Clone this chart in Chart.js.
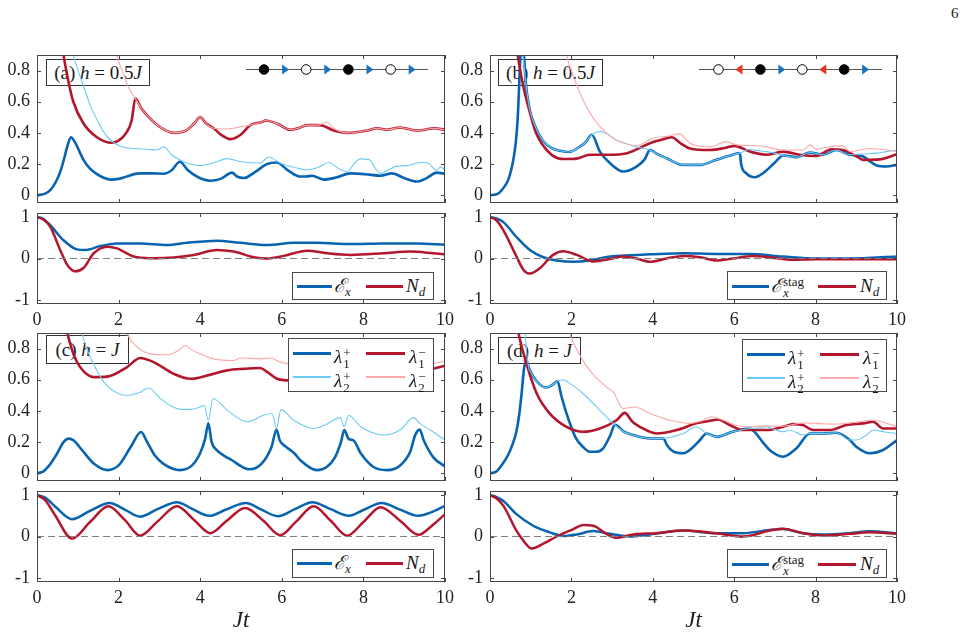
<!DOCTYPE html>
<html>
<head>
<meta charset="utf-8">
<script src="https://cdn.jsdelivr.net/npm/chart.js@4.4.0/dist/chart.umd.min.js"></script>
<style>
  body { margin: 0; background: #fff; }
  #page { position: relative; width: 972px; height: 638px; overflow: hidden; font-family: "Liberation Serif", "Times New Roman", "DejaVu Serif", serif; color: #1a1a1a; }
  canvas { position: absolute; left: 0; top: 0; z-index: 1; }
  svg { z-index: 2; }
  .lg { position: absolute; background: #fff; border: 1px solid #4a4a4a; box-sizing: border-box; z-index: 2; }
  .ln { position: absolute; }
  .tx { position: absolute; white-space: nowrap; font-size: 19px; line-height: 19px; }
  .tx i { font-style: italic; }
  .tx sub { font-size: 13px; font-style: italic; vertical-align: -4px; line-height: 0; }
  .ss { display: inline-block; vertical-align: -5px; font-size: 13px; line-height: 11px; margin-left: 1px; }
  .ss span { display: block; }
  .ss span.it { font-style: italic; }
  .pl { position: absolute; z-index: 0; background: #fff; border: 1px solid #333; box-sizing: border-box; font-size: 19px;
        display: flex; align-items: center; justify-content: center; white-space: nowrap; }
  .pl i { font-style: italic; }
  #pnum { position: absolute; left: 951px; top: 5px; font-size: 15px; }
</style>
</head>
<body>
<div id="page"><div id="pnum">6</div></div>
<script>
// ---- ticks ----
const xTicks = [0, 2, 4, 6, 8, 10];
const topTicks = [0, 0.2, 0.4, 0.6, 0.8];
const smallTicks = [-1, 0, 1];
const zeroT = [0, 10];
const zeroV = [0, 0];

// ---- (a) h = 0.5J ----
const aL1pT = [0, 0.2, 0.33, 0.45, 0.57, 0.66, 0.74, 0.83, 0.95, 1.14, 1.3, 1.47, 1.65, 1.8, 2.0, 2.2, 2.5, 2.8, 3.1, 3.3, 3.5, 3.7, 3.95, 4.25, 4.5, 4.78, 4.9, 5.07, 5.35, 5.64, 5.88, 6.15, 6.45, 6.6, 6.74, 7.03, 7.35, 7.68, 8.05, 8.42, 8.7, 9.0, 9.31, 9.55, 9.8, 10];
const aL1pV = [0, 0.01, 0.034, 0.08, 0.15, 0.23, 0.31, 0.372, 0.33, 0.227, 0.17, 0.135, 0.11, 0.10, 0.105, 0.12, 0.14, 0.14, 0.138, 0.16, 0.215, 0.16, 0.115, 0.093, 0.105, 0.145, 0.12, 0.11, 0.15, 0.2, 0.21, 0.16, 0.12, 0.12, 0.125, 0.10, 0.115, 0.14, 0.135, 0.125, 0.14, 0.11, 0.088, 0.11, 0.145, 0.137];
const aL1mT = [0.5, 0.65, 0.77, 0.89, 1.14, 1.46, 1.83, 2.0, 2.2, 2.32, 2.41, 2.55, 2.78, 3.0, 3.35, 3.68, 3.85, 4.0, 4.15, 4.33, 4.5, 4.74, 5.0, 5.23, 5.51, 5.6, 5.88, 6.21, 6.4, 6.62, 6.9, 7.03, 7.27, 7.6, 8.1, 8.33, 8.58, 8.9, 9.31, 9.5, 9.73, 10];
const aL1mV = [1.15, 0.9, 0.73, 0.60, 0.46, 0.374, 0.337, 0.35, 0.405, 0.48, 0.62, 0.56, 0.49, 0.44, 0.40, 0.42, 0.46, 0.50, 0.46, 0.43, 0.39, 0.36, 0.39, 0.45, 0.47, 0.48, 0.46, 0.42, 0.43, 0.45, 0.45, 0.445, 0.415, 0.40, 0.415, 0.43, 0.42, 0.435, 0.415, 0.42, 0.43, 0.42];
const aL2pT = [0.8, 0.89, 0.97, 1.14, 1.3, 1.46, 1.65, 1.84, 2.1, 2.4, 2.7, 2.94, 3.1, 3.3, 3.5, 3.75, 4.0, 4.3, 4.66, 5.0, 5.47, 5.68, 5.96, 6.3, 6.6, 6.9, 7.15, 7.4, 7.6, 7.8, 7.92, 8.13, 8.3, 8.42, 8.6, 8.8, 9.07, 9.4, 9.56, 9.8, 9.89, 10];
const aL2pV = [1.1, 0.9, 0.83, 0.70, 0.58, 0.49, 0.40, 0.345, 0.31, 0.30, 0.295, 0.29, 0.31, 0.26, 0.227, 0.2, 0.19, 0.205, 0.235, 0.215, 0.207, 0.245, 0.205, 0.18, 0.163, 0.18, 0.21, 0.17, 0.152, 0.21, 0.233, 0.23, 0.17, 0.14, 0.16, 0.185, 0.19, 0.21, 0.208, 0.16, 0.18, 0.163];
const aL2mT = [1.7, 1.95, 2.1, 2.25, 2.41, 2.55, 2.78, 3.0, 3.35, 3.68, 3.85, 4.0, 4.15, 4.33, 4.6, 4.82, 5.0, 5.23, 5.51, 5.6, 5.88, 6.21, 6.4, 6.62, 6.9, 7.1, 7.27, 7.6, 8.1, 8.33, 8.58, 8.9, 9.31, 9.5, 9.73, 10];
const aL2mV = [1.2, 0.9, 0.79, 0.69, 0.62, 0.56, 0.49, 0.44, 0.40, 0.42, 0.46, 0.50, 0.46, 0.43, 0.425, 0.43, 0.44, 0.45, 0.47, 0.48, 0.46, 0.42, 0.43, 0.45, 0.45, 0.47, 0.43, 0.40, 0.415, 0.43, 0.42, 0.435, 0.415, 0.42, 0.43, 0.42];
const aExT = [0, 0.15, 0.33, 0.65, 0.98, 1.18, 1.55, 1.96, 2.53, 3.19, 3.68, 4.41, 4.98, 5.64, 6.29, 6.86, 7.68, 8.5, 9.31, 10];
const aExV = [1, 0.96, 0.8, 0.44, 0.22, 0.206, 0.30, 0.365, 0.365, 0.325, 0.38, 0.43, 0.38, 0.325, 0.38, 0.38, 0.35, 0.365, 0.365, 0.333];
const aNdT = [0, 0.15, 0.33, 0.57, 0.74, 0.94, 1.14, 1.39, 1.72, 1.96, 2.37, 2.78, 3.35, 3.84, 4.41, 4.82, 5.31, 5.64, 6.05, 6.62, 7.11, 7.68, 8.5, 9.15, 9.72, 10];
const aNdV = [1, 0.95, 0.76, 0.2, -0.15, -0.31, -0.23, 0.127, 0.286, 0.246, 0.048, 0.008, 0.024, 0.087, 0.206, 0.167, 0.032, 0, 0.063, 0.19, 0.127, 0.087, 0.127, 0.167, 0.127, 0.103];

// ---- (b) h = 0.5J, staggered ----
const bL1pT = [0, 0.2, 0.31, 0.45, 0.56, 0.63, 0.68, 0.74, 0.78, 0.82, 0.88, 0.97, 1.13, 1.3, 1.53, 1.72, 1.94, 2.2, 2.35, 2.5, 2.7, 2.95, 3.27, 3.6, 3.8, 3.93, 4.1, 4.34, 4.75, 5.16, 5.56, 5.9, 6.14, 6.17, 6.3, 6.5, 6.75, 7.0, 7.2, 7.53, 7.86, 8.18, 8.51, 8.84, 9.17, 9.35, 9.5, 9.74, 10];
const bL1pV = [0, 0.01, 0.04, 0.1, 0.21, 0.33, 0.49, 0.85, 1.0, 0.95, 0.72, 0.555, 0.43, 0.35, 0.30, 0.285, 0.277, 0.31, 0.34, 0.388, 0.28, 0.205, 0.152, 0.184, 0.23, 0.29, 0.265, 0.237, 0.195, 0.195, 0.227, 0.255, 0.27, 0.2, 0.14, 0.115, 0.15, 0.21, 0.255, 0.244, 0.274, 0.26, 0.29, 0.26, 0.248, 0.215, 0.19, 0.184, 0.195];
const bL1mT = [0.5, 0.68, 0.8, 0.97, 1.13, 1.3, 1.53, 1.8, 2.13, 2.45, 2.86, 3.36, 3.93, 4.2, 4.46, 4.7, 4.91, 5.4, 5.8, 6.01, 6.38, 6.79, 7.2, 7.61, 8.02, 8.39, 8.67, 9.0, 9.17, 9.57, 10];
const bL1mV = [1.2, 0.9, 0.72, 0.54, 0.40, 0.32, 0.256, 0.232, 0.235, 0.26, 0.26, 0.27, 0.334, 0.355, 0.372, 0.33, 0.30, 0.29, 0.305, 0.317, 0.28, 0.26, 0.28, 0.26, 0.252, 0.295, 0.29, 0.25, 0.227, 0.23, 0.263];
const bL2pT = [0.7, 0.8, 0.84, 0.88, 0.97, 1.13, 1.3, 1.53, 1.72, 1.94, 2.2, 2.35, 2.5, 2.7, 2.9, 3.1, 3.35, 3.6, 3.93, 4.1, 4.34, 4.75, 5.16, 5.56, 5.9, 6.14, 6.38, 6.6, 6.79, 7.0, 7.2, 7.53, 7.86, 8.18, 8.51, 8.84, 9.17, 9.5, 9.74, 10];
const bL2pV = [1.3, 0.92, 0.82, 0.72, 0.555, 0.43, 0.35, 0.30, 0.285, 0.277, 0.31, 0.34, 0.388, 0.41, 0.39, 0.355, 0.33, 0.31, 0.29, 0.265, 0.237, 0.195, 0.195, 0.227, 0.255, 0.27, 0.295, 0.285, 0.28, 0.27, 0.255, 0.244, 0.274, 0.26, 0.29, 0.26, 0.265, 0.27, 0.28, 0.29];
const bL2mT = [1.6, 1.88, 2.05, 2.29, 2.5, 2.7, 2.9, 3.1, 3.35, 3.6, 4.0, 4.4, 4.66, 4.91, 5.4, 5.81, 6.06, 6.63, 7.2, 7.69, 7.86, 8.02, 8.27, 8.67, 8.84, 9.33, 10];
const bL2mV = [1.2, 0.9, 0.76, 0.61, 0.51, 0.44, 0.39, 0.355, 0.33, 0.317, 0.366, 0.38, 0.394, 0.334, 0.31, 0.344, 0.323, 0.317, 0.29, 0.29, 0.323, 0.295, 0.308, 0.317, 0.28, 0.30, 0.28];
const bExT = [0, 0.15, 0.33, 0.65, 0.98, 1.31, 1.64, 2.05, 2.45, 2.95, 3.44, 3.93, 4.75, 5.56, 6.38, 7.2, 8.02, 8.84, 10];
const bExV = [1, 0.97, 0.88, 0.52, 0.206, 0.03, -0.048, -0.08, -0.048, 0.048, 0.08, 0.1, 0.127, 0.11, 0.11, 0.048, 0, 0, 0.048];
const bNdT = [0, 0.15, 0.33, 0.65, 0.82, 0.98, 1.23, 1.55, 1.8, 2.13, 2.54, 3.03, 3.27, 3.6, 3.93, 4.34, 4.75, 5.16, 5.56, 5.97, 6.46, 6.87, 7.36, 8.02, 8.84, 10];
const bNdV = [1, 0.93, 0.68, 0.05, -0.27, -0.365, -0.23, 0.087, 0.175, 0.087, -0.07, 0.008, 0.048, 0, -0.08, 0, 0.063, 0.032, -0.048, 0, 0.063, 0.032, -0.03, -0.016, -0.016, -0.016];

// ---- (c) h = J ----
const cL1pT = [0, 0.15, 0.3, 0.5, 0.65, 0.78, 0.9, 1.1, 1.4, 1.72, 2.0, 2.3, 2.55, 2.7, 2.9, 3.1, 3.5, 3.8, 4.0, 4.12, 4.2, 4.28, 4.4, 4.6, 4.8, 5.0, 5.2, 5.5, 5.75, 5.87, 5.95, 6.1, 6.3, 6.45, 6.86, 7.1, 7.3, 7.45, 7.53, 7.64, 7.76, 7.93, 8.25, 8.58, 8.9, 9.15, 9.27, 9.38, 9.48, 9.72, 10];
const cL1pV = [0, 0.01, 0.05, 0.13, 0.2, 0.222, 0.21, 0.15, 0.06, 0.02, 0.05, 0.17, 0.265, 0.2, 0.11, 0.06, 0.02, 0.05, 0.13, 0.22, 0.32, 0.2, 0.15, 0.11, 0.08, 0.045, 0.025, 0.06, 0.17, 0.28, 0.21, 0.17, 0.13, 0.085, 0.02, 0.04, 0.1, 0.2, 0.277, 0.22, 0.21, 0.13, 0.04, 0.02, 0.05, 0.14, 0.245, 0.28, 0.21, 0.1, 0.043];
const cL1mT = [0.5, 0.74, 0.9, 1.06, 1.39, 1.72, 2.2, 2.53, 2.86, 3.35, 3.76, 4.17, 4.66, 5.07, 5.47, 5.64, 5.88, 6.13, 6.5, 7.0, 7.5, 8.0, 8.5, 9.0, 9.5, 9.7, 10];
const cL1mV = [1.1, 0.9, 0.76, 0.68, 0.617, 0.62, 0.68, 0.74, 0.713, 0.638, 0.606, 0.627, 0.66, 0.67, 0.675, 0.65, 0.606, 0.596, 0.6, 0.62, 0.6, 0.63, 0.62, 0.64, 0.66, 0.67, 0.69];
const cL2pT = [0.9, 1.1, 1.25, 1.39, 1.55, 1.72, 2.0, 2.2, 2.53, 2.74, 3.02, 3.3, 3.51, 3.76, 4.0, 4.1, 4.2, 4.31, 4.66, 5.15, 5.56, 5.76, 5.87, 5.98, 6.29, 6.78, 7.1, 7.43, 7.53, 7.64, 7.93, 8.5, 8.9, 9.23, 9.38, 9.64, 10];
const cL2pV = [1.2, 0.9, 0.78, 0.70, 0.62, 0.56, 0.51, 0.50, 0.52, 0.547, 0.48, 0.43, 0.41, 0.41, 0.425, 0.436, 0.34, 0.48, 0.405, 0.33, 0.372, 0.383, 0.29, 0.408, 0.34, 0.287, 0.315, 0.357, 0.30, 0.372, 0.30, 0.245, 0.277, 0.357, 0.32, 0.277, 0.213];
const cL2mT = [1.9, 2.2, 2.37, 2.78, 3.19, 3.45, 3.64, 3.8, 4.0, 4.33, 4.82, 4.98, 5.47, 5.72, 5.96, 6.3, 7.0, 8.0, 9.0, 9.7, 10];
const cL2mV = [1.1, 0.9, 0.83, 0.766, 0.76, 0.785, 0.82, 0.79, 0.766, 0.734, 0.723, 0.74, 0.734, 0.74, 0.713, 0.70, 0.71, 0.72, 0.71, 0.705, 0.72];
const cExT = [0, 0.2, 0.45, 0.86, 1.3, 1.78, 2.15, 2.53, 2.95, 3.43, 3.8, 4.22, 4.65, 5.12, 5.5, 5.9, 6.32, 6.75, 7.2, 7.64, 8.0, 8.45, 8.9, 9.35, 9.7, 10];
const cExV = [1, 0.94, 0.72, 0.42, 0.62, 0.81, 0.65, 0.48, 0.66, 0.83, 0.67, 0.5, 0.66, 0.81, 0.65, 0.49, 0.66, 0.83, 0.66, 0.5, 0.64, 0.81, 0.65, 0.5, 0.6, 0.74];
const cNdT = [0, 0.2, 0.45, 0.86, 1.3, 1.75, 2.15, 2.53, 2.95, 3.43, 3.85, 4.25, 4.65, 5.1, 5.55, 5.96, 6.35, 6.78, 7.2, 7.6, 8.0, 8.42, 8.9, 9.35, 9.7, 10];
const cNdV = [1, 0.88, 0.5, -0.055, 0.35, 0.73, 0.4, 0.02, 0.36, 0.73, 0.4, 0.08, 0.38, 0.69, 0.38, 0.03, 0.36, 0.73, 0.38, 0.02, 0.35, 0.71, 0.38, 0.04, 0.28, 0.54];

// ---- (d) h = J, staggered ----
const dL1pT = [0, 0.15, 0.31, 0.45, 0.56, 0.65, 0.72, 0.78, 0.84, 0.9, 0.95, 1.0, 1.13, 1.38, 1.55, 1.66, 1.75, 1.86, 2.1, 2.3, 2.45, 2.6, 2.78, 2.95, 3.07, 3.3, 3.52, 3.93, 4.26, 4.35, 4.5, 4.75, 5.0, 5.15, 5.32, 5.56, 5.97, 6.38, 6.5, 6.7, 6.87, 7.2, 7.53, 7.86, 8.18, 8.51, 8.84, 9.0, 9.33, 9.66, 10];
const dL1pV = [0, 0.01, 0.06, 0.12, 0.19, 0.27, 0.38, 0.52, 0.68, 0.72, 0.68, 0.65, 0.595, 0.55, 0.57, 0.59, 0.5, 0.40, 0.23, 0.165, 0.138, 0.138, 0.16, 0.24, 0.31, 0.265, 0.245, 0.223, 0.223, 0.18, 0.14, 0.128, 0.17, 0.21, 0.255, 0.234, 0.266, 0.287, 0.265, 0.2, 0.149, 0.106, 0.16, 0.255, 0.255, 0.26, 0.213, 0.17, 0.128, 0.149, 0.213];
const dL1mT = [0.5, 0.7, 0.9, 1.15, 1.47, 1.88, 2.29, 2.7, 3.11, 3.31, 3.5, 3.68, 4.09, 4.58, 5.07, 5.48, 5.6, 5.89, 6.22, 6.79, 7.2, 7.45, 7.69, 7.94, 8.35, 8.76, 9.17, 9.41, 9.66, 10];
const dL1mV = [1.2, 0.9, 0.70, 0.51, 0.383, 0.298, 0.266, 0.287, 0.34, 0.387, 0.33, 0.298, 0.255, 0.277, 0.32, 0.34, 0.345, 0.309, 0.277, 0.277, 0.298, 0.315, 0.309, 0.277, 0.277, 0.309, 0.32, 0.33, 0.287, 0.287];
const dL2pT = [0.7, 0.86, 0.9, 0.95, 1.0, 1.13, 1.38, 1.55, 1.66, 1.8, 2.0, 2.29, 2.7, 3.07, 3.3, 3.52, 3.93, 4.26, 4.5, 4.75, 5.07, 5.32, 5.56, 5.97, 6.38, 6.6, 6.79, 7.0, 7.2, 7.36, 7.69, 7.86, 8.18, 8.51, 8.84, 9.0, 9.25, 9.41, 9.7, 10];
const dL2pV = [1.3, 0.9, 0.78, 0.68, 0.65, 0.595, 0.55, 0.57, 0.59, 0.598, 0.57, 0.51, 0.404, 0.31, 0.265, 0.245, 0.223, 0.223, 0.235, 0.255, 0.298, 0.255, 0.234, 0.266, 0.287, 0.29, 0.298, 0.28, 0.266, 0.277, 0.245, 0.255, 0.255, 0.26, 0.213, 0.213, 0.245, 0.277, 0.265, 0.255];
const dL2mT = [1.7, 1.96, 2.2, 2.45, 2.86, 3.03, 3.27, 3.56, 3.93, 4.42, 4.91, 5.2, 5.44, 5.73, 6.22, 6.79, 7.2, 7.69, 8.02, 8.43, 8.84, 9.41, 10];
const dL2mV = [1.2, 0.9, 0.76, 0.66, 0.553, 0.52, 0.415, 0.425, 0.383, 0.34, 0.32, 0.335, 0.362, 0.34, 0.298, 0.302, 0.302, 0.323, 0.32, 0.315, 0.323, 0.34, 0.298];
const dExT = [0, 0.15, 0.33, 0.65, 1.06, 1.47, 1.8, 2.13, 2.54, 2.95, 3.44, 3.93, 4.75, 5.56, 6.22, 6.87, 7.2, 7.69, 8.18, 8.84, 9.33, 10];
const dExV = [1, 0.96, 0.86, 0.54, 0.26, 0.10, 0.01, 0.05, 0.13, 0.064, 0, 0.05, 0.143, 0.08, 0.08, 0.16, 0.183, 0.08, 0.05, 0.08, 0.127, 0.08];
const dNdT = [0, 0.15, 0.33, 0.65, 0.82, 1.02, 1.31, 1.64, 2.05, 2.29, 2.54, 2.86, 3.11, 3.52, 4.09, 4.75, 5.56, 6.22, 6.87, 7.2, 7.69, 8.18, 8.84, 9.33, 10];
const dNdV = [1, 0.93, 0.74, 0.14, -0.1, -0.29, -0.175, 0, 0.18, 0.28, 0.26, 0.064, -0.03, 0.05, 0.08, 0.143, 0.08, 0, 0.143, 0.19, 0.08, 0.024, 0.064, 0.1, 0.064];

const C = { blue: '#0863b0', red: '#b3172d', lblue: '#6ccbf2', lred: '#fca8a8', zero: '#808080', axis: '#454545', text: '#222' };
const SERIF = '"Liberation Serif", "Times New Roman", "DejaVu Serif", serif';
const tickFont = { family: SERIF, size: 18 };
const page = document.getElementById('page');

// box + inward ticks on all four sides, MATLAB style
const frame = {
  id: 'frame',
  afterDatasetsDraw(chart) {
    const { ctx, chartArea: a, scales: { x, y } } = chart;
    ctx.save();
    ctx.strokeStyle = C.axis;
    ctx.lineWidth = 1;
    ctx.beginPath();
    x.ticks.forEach(t => {
      const px = Math.round(x.getPixelForValue(t.value)) + 0.5;
      ctx.moveTo(px, a.bottom); ctx.lineTo(px, a.bottom - 4);
      ctx.moveTo(px, a.top); ctx.lineTo(px, a.top + 4);
    });
    y.ticks.forEach(t => {
      const py = Math.round(y.getPixelForValue(t.value)) + 0.5;
      ctx.moveTo(a.left, py); ctx.lineTo(a.left + 4, py);
      ctx.moveTo(a.right, py); ctx.lineTo(a.right - 4, py);
    });
    ctx.stroke();
    ctx.strokeRect(a.left + 0.5, a.top + 0.5, a.width - 1, a.height - 1);
    ctx.restore();
  }
};

const topSet = (l1p, l1m, l2p, l2m) => [
  [l1p[0], l1p[1], C.blue, 2.6], [l1m[0], l1m[1], C.red, 2.6],
  [l2p[0], l2p[1], C.lblue, 1.1], [l2m[0], l2m[1], C.lred, 1.1]
];
const smallSet = (ex, nd) => [
  [ex[0], ex[1], C.blue, 2.5], [nd[0], nd[1], C.red, 2.5],
  [zeroT, zeroV, C.zero, 1, [7, 4]]
];

const panels = [
  { l: 37, r: 445, t: 55, b: 203, xH: 0, series: topSet([aL1pT, aL1pV], [aL1mT, aL1mV], [aL2pT, aL2pV], [aL2mT, aL2mV]) },
  { l: 490, r: 897, t: 55, b: 203, xH: 0, series: topSet([bL1pT, bL1pV], [bL1mT, bL1mV], [bL2pT, bL2pV], [bL2mT, bL2mV]) },
  { l: 37, r: 445, t: 213, b: 304, xH: 24, small: true, series: smallSet([aExT, aExV], [aNdT, aNdV]) },
  { l: 490, r: 897, t: 213, b: 304, xH: 24, small: true, series: smallSet([bExT, bExV], [bNdT, bNdV]) },
  { l: 37, r: 445, t: 333, b: 481, xH: 0, series: topSet([cL1pT, cL1pV], [cL1mT, cL1mV], [cL2pT, cL2pV], [cL2mT, cL2mV]) },
  { l: 490, r: 897, t: 333, b: 481, xH: 0, series: topSet([dL1pT, dL1pV], [dL1mT, dL1mV], [dL2pT, dL2pV], [dL2mT, dL2mV]) },
  { l: 37, r: 445, t: 491, b: 582, xH: 53, small: true, title: true, series: smallSet([cExT, cExV], [cNdT, cNdV]) },
  { l: 490, r: 897, t: 491, b: 582, xH: 53, small: true, title: true, series: smallSet([dExT, dExV], [dNdT, dNdV]) }
];

panels.forEach(p => {
  const cv = document.createElement('canvas');
  cv.width = 972; cv.height = 638;
  page.appendChild(cv);
  const yW = 36;
  // first dataset is painted last in Chart.js, so reverse the painting order
  const datasets = p.series.map(([t, v, color, w, dash]) => ({
    data: t.map((x, i) => ({ x: x, y: v[i] })),
    borderColor: color,
    borderWidth: w,
    borderDash: dash || [],
    pointRadius: 0,
    fill: false,
    tension: 0,
    cubicInterpolationMode: dash ? 'default' : 'monotone'
  })).reverse();

  new Chart(cv, {
    type: 'line',
    data: { datasets: datasets },
    options: {
      responsive: false,
      animation: false,
      events: [],
      layout: { padding: { left: p.l - yW, top: p.t, right: 972 - p.r, bottom: 638 - p.b - p.xH } },
      plugins: { legend: { display: false }, tooltip: { enabled: false } },
      scales: {
        x: {
          type: 'linear', min: 0, max: 10,
          grid: { display: false, drawTicks: false },
          border: { display: false },
          afterBuildTicks: s => { s.ticks = xTicks.map(value => ({ value })); },
          afterFit: s => { s.height = p.xH; },
          ticks: { display: p.xH > 0, padding: 5, color: C.text, font: tickFont, maxRotation: 0, autoSkip: false, callback: v => String(v) },
          title: { display: !!p.title, text: 'Jt', color: C.text, padding: 0, font: { family: SERIF, size: 23, style: 'italic' } }
        },
        y: {
          type: 'linear',
          min: p.small ? -1.1 : -0.05,
          max: p.small ? 1.1 : 0.9,
          grid: { display: false, drawTicks: false },
          border: { display: false },
          afterBuildTicks: s => { s.ticks = (p.small ? smallTicks : topTicks).map(value => ({ value })); },
          afterFit: s => { s.width = yW; },
          ticks: { padding: 7, color: C.text, font: tickFont, callback: v => String(v) }
        }
      }
    },
    plugins: [frame]
  });
});

// ---- panel labels (sit under the curves, as in the figure) ----
function label(x, y, w, h, html) {
  const d = document.createElement('div');
  d.className = 'pl';
  Object.assign(d.style, { left: x + 'px', top: y + 'px', width: w + 'px', height: h + 'px' });
  d.innerHTML = html;
  page.appendChild(d);
}
label(46, 59, 104, 27, '(a)&nbsp;<i>h</i>&nbsp;=&nbsp;0.5<i>J</i>');
label(498, 59, 105, 27, '(b)&nbsp;<i>h</i>&nbsp;=&nbsp;0.5<i>J</i>');
label(46, 335, 83, 29, '(c)&nbsp;<i>h</i>&nbsp;=&nbsp;<i>J</i>');
label(498, 337, 83, 27, '(d)&nbsp;<i>h</i>&nbsp;=&nbsp;<i>J</i>');

// ---- legends ----
const lam = (s, n) => `<i>λ</i><span class="ss"><span>${s}</span><span>${n}</span></span>`;
const EX = '<i>ℰ</i><sub>x</sub>';
const EXS = '<i>ℰ</i><span class="ss"><span>stag</span><span class="it">x</span></span>';
const ND = '<i>N</i><sub>d</sub>';

function legend(x, y, w, h, rows) {
  const d = document.createElement('div');
  d.className = 'lg';
  Object.assign(d.style, { left: x + 'px', top: y + 'px', width: w + 'px', height: h + 'px' });
  rows.forEach(([lx, ly, lw, color, th, tx, base, html]) => {
    const ln = document.createElement('div');
    ln.className = 'ln';
    Object.assign(ln.style, { left: lx + 'px', top: (ly - th / 2) + 'px', width: lw + 'px', height: th + 'px', background: color });
    d.appendChild(ln);
    const s = document.createElement('div');
    s.className = 'tx';
    s.style.left = tx + 'px';
    s.style.top = (base - 15) + 'px';
    s.innerHTML = html;
    d.appendChild(s);
  });
  page.appendChild(d);
}
const lamRows = [
  [4, 14, 38, C.blue, 3, 45, 23, lam('+', '1')],
  [77, 14, 39, C.red, 3, 120, 23, lam('−', '1')],
  [4, 38, 38, C.lblue, 1.3, 45, 47, lam('+', '2')],
  [77, 38, 39, C.lred, 1.3, 120, 47, lam('−', '2')]
];
legend(288, 338, 146, 54, lamRows);
legend(742, 339, 145, 53, lamRows);
const exRows = [
  [4, 13, 35, C.blue, 3, 41, 18, EX],
  [73, 13, 37, C.red, 3, 113, 18, ND]
];
legend(292, 272, 142, 28, exRows);
legend(292, 549, 142, 29, exRows);
const exsRows = [
  [4, 14, 37, C.blue, 3, 43, 19, EXS],
  [90, 14, 38, C.red, 3, 132, 19, ND]
];
legend(727, 271, 160, 29, exsRows);
legend(727, 549, 160, 29, exsRows);

// ---- lattice sketches ----
const NS = 'http://www.w3.org/2000/svg';
const svg = document.createElementNS(NS, 'svg');
svg.setAttribute('width', 972); svg.setAttribute('height', 638);
svg.style.position = 'absolute'; svg.style.left = '0'; svg.style.top = '0';
page.appendChild(svg);
function el(name, attrs) {
  const e = document.createElementNS(NS, name);
  for (const k in attrs) e.setAttribute(k, attrs[k]);
  svg.appendChild(e);
}
function lattice(x0, x1, y, first, step, sites) {
  el('line', { x1: x0, y1: y, x2: x1, y2: y, stroke: '#555', 'stroke-width': 1 });
  sites.forEach((s, i) => {
    const x = first + i * step;
    if (s === 'f' || s === 'o') el('circle', { cx: x, cy: y, r: 4.8, fill: s === 'f' ? '#000' : '#fff', stroke: '#000', 'stroke-width': 1 });
    if (s === 'R') el('polygon', { points: `${x - 3},${y - 5} ${x - 3},${y + 5} ${x + 4},${y}`, fill: '#1a73c0' });
    if (s === 'L') el('polygon', { points: `${x + 3},${y - 5} ${x + 3},${y + 5} ${x - 4},${y}`, fill: '#e8301f' });
  });
}
lattice(246, 428, 69.5, 264, 21.1, ['f', 'R', 'o', 'R', 'f', 'R', 'o', 'R']);
lattice(699, 882, 69.5, 718.5, 20.95, ['o', 'L', 'f', 'R', 'o', 'L', 'f', 'R']);
</script>
</body>
</html>
